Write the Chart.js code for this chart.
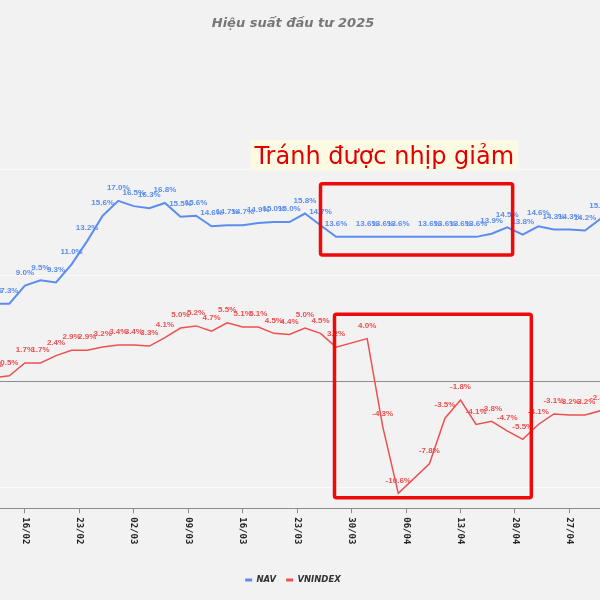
<!DOCTYPE html>
<html>
<head>
<meta charset="utf-8">
<script src="https://cdn.jsdelivr.net/npm/chart.js@4.4.1/dist/chart.umd.min.js"></script>
<style>
  html, body { margin: 0; padding: 0; background: #f2f2f2; overflow: hidden; }
  /* the source chart is cropped a little on the left, so the canvas hangs off the page */
  #wrap { position: absolute; left: -14px; top: 0; width: 614px; height: 600px; }
</style>
</head>
<body>
<div id="wrap"><canvas id="perf_chart" width="614" height="600"></canvas></div>
<script>
// sample dates (dd/mm, 2025)
const dates = [
  '12/02', '14/02', '16/02', '18/02', '20/02', '22/02', '24/02', '26/02', '28/02',
  '02/03', '04/03', '06/03', '08/03', '10/03', '12/03', '14/03', '16/03', '18/03',
  '20/03', '22/03', '24/03', '26/03', '28/03',
  '01/04', '03/04', '05/04', '09/04', '11/04', '13/04', '15/04', '17/04', '19/04',
  '21/04', '23/04', '25/04', '27/04', '29/04', '01/05',
];

// cumulative return, %
const nav = [
  7.3, 7.3, 9.0, 9.5, 9.3, 11.0, 13.2, 15.6, 17.0,
  16.5, 16.3, 16.8, 15.5, 15.6, 14.6, 14.7, 14.7, 14.9,
  15.0, 15.0, 15.8, 14.7, 13.6,
  13.6, 13.6, 13.6, 13.6, 13.6, 13.6, 13.6, 13.9, 14.5,
  13.8, 14.6, 14.3, 14.3, 14.2, 15.3,
];

const vnindex = [
  0.3, 0.5, 1.7, 1.7, 2.4, 2.9, 2.9, 3.2, 3.4,
  3.4, 3.3, 4.1, 5.0, 5.2, 4.7, 5.5, 5.1, 5.1,
  4.5, 4.4, 5.0, 4.5, 3.2,
  4.0, -4.3, -10.6, -7.8, -3.5, -1.8, -4.1, -3.8, -4.7,
  -5.5, -4.1, -3.1, -3.2, -3.2, -2.8,
];

const tickDates = ['16/02', '23/02', '02/03', '09/03', '16/03', '23/03', '30/03', '06/04', '13/04', '20/04', '27/04'];
const gridValues = [-10, 10, 20];

const NAV_COLOR = '#5b8def';
const VNI_COLOR = '#ee4f4f';

// red call-out boxes, in axis units (day of year / %)
const highlight_boxes = [
  { x0: 84.0, x1: 108.7, y0: 11.9, y1: 18.6 },
  { x0: 85.8, x1: 111.1, y0: -11.0, y1: 6.3 },
];
const note_text = 'Tránh được nhịp giảm';
const note_at = { x: 92.2, y: 21.3 };

function dayNum(s) {
  const [dd, mm] = s.split('/').map(Number);
  return (Date.UTC(2025, mm - 1, dd) - Date.UTC(2025, 0, 1)) / 86400000;
}

const bg_plugin = {
  id: 'bg',
  beforeDraw(chart) {
    const ctx = chart.ctx;
    ctx.save();
    ctx.fillStyle = '#f2f2f2';
    ctx.fillRect(0, 0, chart.width, chart.height);
    ctx.restore();
  }
};

// value labels above every point
const value_labels = {
  id: 'valueLabels',
  afterDatasetsDraw(chart) {
    const ctx = chart.ctx;
    ctx.save();
    ctx.font = 'bold 8px "Liberation Sans Narrow", "Liberation Sans", sans-serif';
    ctx.textAlign = 'center';
    ctx.textBaseline = 'middle';
    chart.data.datasets.forEach((ds, i) => {
      const meta = chart.getDatasetMeta(i);
      ctx.fillStyle = ds.borderColor;
      meta.data.forEach((pt, j) => {
        ctx.fillText(ds.data[j].y.toFixed(1) + '%', pt.x, pt.y - 13);
      });
    });
    ctx.restore();
  }
};

// boxes + note
const callouts = {
  id: 'callouts',
  afterDatasetsDraw(chart) {
    const ctx = chart.ctx, xs = chart.scales.x, ys = chart.scales.y;
    ctx.save();
    ctx.strokeStyle = '#ee0a0a';
    ctx.lineWidth = 3.5;
    ctx.lineJoin = 'round';
    highlight_boxes.forEach(b => {
      const l = xs.getPixelForValue(b.x0), r = xs.getPixelForValue(b.x1);
      const t = ys.getPixelForValue(b.y1), btm = ys.getPixelForValue(b.y0);
      ctx.beginPath();
      ctx.roundRect(l, t, r - l, btm - t, 2);
      ctx.stroke();
    });
    const cx = xs.getPixelForValue(note_at.x), cy = ys.getPixelForValue(note_at.y);
    ctx.font = '24px "DejaVu Sans"';
    const w = ctx.measureText(note_text).width;
    ctx.fillStyle = '#fcfae2';
    ctx.fillRect(cx - w / 2 - 4, cy - 15, w + 8, 30);
    ctx.fillStyle = '#e00000';
    ctx.textAlign = 'center';
    ctx.textBaseline = 'alphabetic';
    ctx.fillText(note_text, cx, cy + 8.5);
    ctx.restore();
  }
};

// x tick labels, rotated clockwise
const x_labels = {
  id: 'xLabels',
  afterDraw(chart) {
    const sc = chart.scales.x, ctx = chart.ctx;
    ctx.save();
    ctx.font = 'bold 9px "DejaVu Sans Mono"';
    ctx.fillStyle = '#222';
    ctx.textAlign = 'left';
    ctx.textBaseline = 'middle';
    sc.ticks.forEach(t => {
      ctx.save();
      ctx.translate(sc.getPixelForValue(t.value), chart.chartArea.bottom + 9);
      ctx.rotate(Math.PI / 2);
      ctx.fillText(t.label, 0, 0);
      ctx.restore();
    });
    ctx.restore();
  }
};

const perf_chart = new Chart(document.getElementById('perf_chart'), {
  type: 'line',
  data: {
    datasets: [
      {
        label: 'NAV',
        data: dates.map((d, i) => ({ x: dayNum(d), y: nav[i] })),
        borderColor: NAV_COLOR,
        backgroundColor: NAV_COLOR,
        borderWidth: 2,
        pointRadius: 0,
        tension: 0,
      },
      {
        label: 'VNINDEX',
        data: dates.map((d, i) => ({ x: dayNum(d), y: vnindex[i] })),
        borderColor: VNI_COLOR,
        backgroundColor: VNI_COLOR,
        borderWidth: 1.5,
        pointRadius: 0,
        tension: 0,
      },
    ]
  },
  options: {
    responsive: false,
    animation: false,
    layout: { padding: { left: 0, right: 0, top: 0, bottom: 5.75 } },
    scales: {
      x: {
        type: 'linear',
        min: 41,
        max: 119.93,
        afterBuildTicks: scale => {
          scale.ticks = tickDates.map(t => ({ value: dayNum(t) }));
        },
        afterFit: scale => { scale.height = 57.5; },
        ticks: { display: false, callback: (v, i) => tickDates[i] },
        grid: { drawOnChartArea: false, color: '#8c8c8c', tickLength: 5 },
        border: { color: '#8c8c8c' },
      },
      y: {
        min: -12,
        max: 30,
        afterFit: scale => { scale.width = 0; },
        ticks: { display: false, stepSize: 10 },
        grid: {
          drawTicks: false,
          color: c => c.tick.value === 0 ? '#8c8c8c' : (gridValues.includes(c.tick.value) ? '#fbfbfb' : 'transparent'),
        },
        border: { display: false },
      }
    },
    plugins: {
      title: {
        display: true,
        text: 'Hiệu suất đầu tư 2025',
        color: '#777',
        font: { family: 'DejaVu Sans', size: 13, weight: 'bold', style: 'italic' },
        padding: { top: 16, bottom: 31.4 },
      },
      legend: {
        position: 'bottom',
        labels: {
          boxWidth: 7,
          boxHeight: 3,
          padding: 10,
          color: '#333',
          font: { family: 'DejaVu Sans', size: 8.5, weight: 'bold', style: 'italic' },
          generateLabels: chart =>
            Chart.defaults.plugins.legend.labels.generateLabels(chart).map(l => ({ ...l, lineWidth: 0 })),
        },
      },
      tooltip: { enabled: false },
    }
  },
  plugins: [bg_plugin, value_labels, callouts, x_labels],
});
</script>
</body>
</html>
